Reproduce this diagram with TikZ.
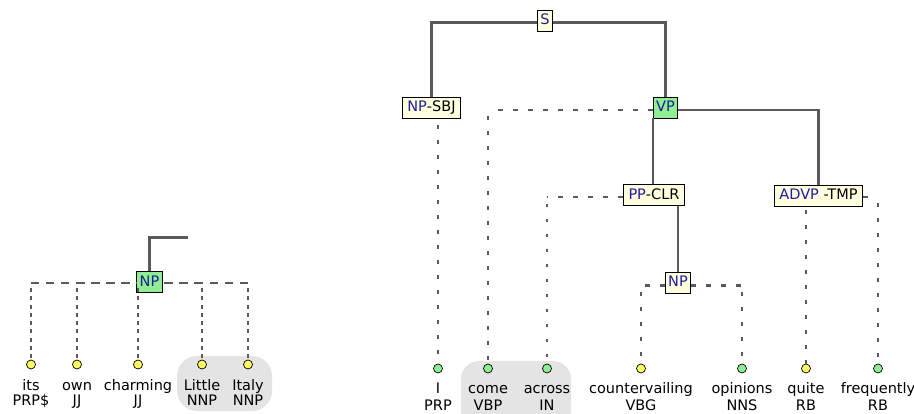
\documentclass[tikz,border=0pt]{standalone}
\usepackage{fontspec}
\setmainfont{DejaVu Sans}
\usetikzlibrary{calc}
\definecolor{edgec}{HTML}{5A5A5A}
\definecolor{boxy}{HTML}{FFFFE0}
\definecolor{boxg}{HTML}{90EE90}
\definecolor{lblue}{HTML}{1C1C9E}
\definecolor{doty}{HTML}{FFFF60}
\definecolor{hlgray}{HTML}{E4E4E4}
\newcommand{\lbl}[1]{\textcolor{lblue}{#1}}
\begin{document}
\begin{tikzpicture}[x=1pt,y=-1pt,font=\fontsize{14.5}{16}\selectfont,
  cat/.style={draw=black, line width=0.9pt, fill=boxy, inner xsep=3pt, inner ysep=0pt,
    minimum height=21pt, text height=10.8pt, text depth=2.5pt},
  catg/.style={cat, fill=boxg},
  widecat/.style={cat, inner xsep=5pt},
  solidedge/.style={draw=edgec, line width=2.1pt},
  hdash/.style={draw=edgec, line width=2.4pt, dash pattern=on 5pt off 10pt},
  vdot/.style={draw=edgec, line width=2.8pt, dash pattern=on 3.5pt off 11.5pt},
  ldash/.style={draw=edgec, line width=2.1pt, dash pattern=on 8pt off 7pt},
  ldot/.style={draw=edgec, line width=2.8pt, dash pattern=on 4pt off 4.3pt},
  leafy/.style={circle, draw=black, line width=0.7pt, fill=doty, inner sep=0pt, minimum size=9pt},
  leafg/.style={leafy, fill=boxg},
  word/.style={inner sep=0pt, anchor=base}
]
\useasboundingbox (0,0) rectangle (914,414);
% highlight backgrounds
\begin{scope}
\clip (0,0) rectangle (914,414);
\fill[hlgray, rounded corners=20pt] (177,356) rectangle (272,411);
\fill[hlgray, rounded corners=18pt] (461,361) rectangle (571,432);
\end{scope}

% ---------------- left fragment ----------------
\node[catg] (lnp) at (149.5,282) {\lbl{NP}};
\coordinate (lfree) at (188,237.5);
\draw[solidedge] (lnp.north) |- (lfree);

\node[leafy] (l1) at (31,364.5) {};
\node[leafy] (l2) at (77,364.5) {};
\node[leafy] (l3) at (138,364.5) {};
\node[leafy] (l4) at (202,364.5) {};
\node[leafy] (l5) at (248,364.5) {};

\draw[ldash] ($(lnp.west -| l1)+(0,1)$) -- ($(lnp.west)+(0,1)$);
\draw[ldash] ($(lnp.west -| l2)+(0,1)$) -- ($(lnp.west)+(0,1)$);
\draw[ldash] ($(lnp.east -| l4)+(0,1)$) -- ($(lnp.east)+(0,1)$);
\draw[ldash] ($(lnp.east -| l5)+(0,1)$) -- ($(lnp.east)+(0,1)$);
\draw[ldot] ($(lnp.west -| l1)+(0,6)$) -- (l1.north);
\draw[ldot] ($(lnp.west -| l2)+(0,6)$) -- (l2.north);
\draw[ldot] ($(lnp.west -| l3)+(0,6)$) -- (l3.north);
\draw[ldot] ($(lnp.east -| l4)+(0,6)$) -- (l4.north);
\draw[ldot] ($(lnp.east -| l5)+(0,6)$) -- (l5.north);

\node[word] (lw1) at ($(l1)+(0,25.5)$) {its};
\node[word] (lt1) at ($(l1)+(0,41.5)$) {PRP\$};
\node[word] (lw2) at ($(l2)+(0,25.5)$) {own};
\node[word] (lt2) at ($(l2)+(0,41.5)$) {JJ};
\node[word] (lw3) at ($(l3)+(0,25.5)$) {charming};
\node[word] (lt3) at ($(l3)+(0,41.5)$) {JJ};
\node[word] (lw4) at ($(l4)+(0,25.5)$) {Little};
\node[word] (lt4) at ($(l4)+(0,41.5)$) {NNP};
\node[word] (lw5) at ($(l5)+(0,25.5)$) {Italy};
\node[word] (lt5) at ($(l5)+(0,41.5)$) {NNP};

% ---------------- right tree ----------------
\node[cat] (s) at (545,20.5) {\lbl{S}};
\node[widecat] (npsbj) at (431.5,107.5) {\lbl{NP}-SBJ};
\node[catg] (vp) at (665.5,107.5) {\lbl{VP}};
\node[widecat] (pp) at (654,195) {\lbl{PP}-CLR};
\node[widecat] (advp) at (818.5,195.5) {\lbl{ADVP} -TMP};
\node[cat] (np2) at (678,282.5) {\lbl{NP}};

\draw[solidedge] ($(s.west)+(0,2)$) -| (npsbj.north);
\draw[solidedge] ($(s.east)+(0,2)$) -| (vp.north);
\draw[solidedge] ($(vp.east)+(0,2.5)$) -| (advp.north);
\draw[solidedge] ($(pp.north)+(-1,0)$) -- ($(pp.north |- vp.south)+(-1,0)$);
\draw[solidedge] (np2.north) -- (np2.north |- pp.south);

\node[leafg] (r1) at (438,368.5) {};
\node[leafg] (r2) at (488,368.5) {};
\node[leafg] (r3) at (547,368.5) {};
\node[leafy] (r4) at (641,368.5) {};
\node[leafg] (r5) at (742,368.5) {};
\node[leafy] (r6) at (806,368.5) {};
\node[leafg] (r7) at (878,368.5) {};

% NP-SBJ -> I
\draw[vdot] ($(npsbj.south -| r1)+(0,7)$) -- (r1.north);
% VP -> come
\draw[hdash] ($(vp.west)+(0,2.5)$) -- ($(vp.west -| r2)+(0,2.5)$);
\draw[vdot] ($(vp.west -| r2)+(0,9)$) -- (r2.north);
% PP-CLR -> across
\draw[hdash] ($(pp.west)+(0,2)$) -- ($(pp.west -| r3)+(0,2)$);
\draw[vdot] ($(pp.west -| r3)+(0,9)$) -- (r3.north);
% NP -> countervailing, opinions
\draw[hdash] ($(np2.west)+(0,3)$) -- ($(np2.west -| r4)+(0,3)$);
\draw[vdot] ($(np2.west -| r4)+(0,10)$) -- (r4.north);
\draw[hdash] ($(np2.east)+(0,3)$) -- ($(np2.east -| r5)+(0,3)$);
\draw[vdot] ($(np2.east -| r5)+(0,10)$) -- (r5.north);
% ADVP -> quite, frequently
\draw[vdot] ($(advp.south -| r6)+(0,4)$) -- (r6.north);
\draw[hdash] ($(advp.east)+(0,1.5)$) -- ($(advp.east -| r7)+(0,1.5)$);
\draw[vdot] ($(advp.east -| r7)+(0,8)$) -- (r7.north);

\node[word] (rw1) at ($(r1)+(0,25.5)$) {I};
\node[word] (rt1) at ($(r1)+(0,42)$) {PRP};
\node[word] (rw2) at ($(r2)+(0,25.5)$) {come};
\node[word] (rt2) at ($(r2)+(0,42)$) {VBP};
\node[word] (rw3) at ($(r3)+(0,25.5)$) {across};
\node[word] (rt3) at ($(r3)+(0,42)$) {IN};
\node[word] (rw4) at ($(r4)+(0,25.5)$) {countervailing};
\node[word] (rt4) at ($(r4)+(0,42)$) {VBG};
\node[word] (rw5) at ($(r5)+(0,25.5)$) {opinions};
\node[word] (rt5) at ($(r5)+(0,42)$) {NNS};
\node[word] (rw6) at ($(r6)+(0,25.5)$) {quite};
\node[word] (rt6) at ($(r6)+(0,42)$) {RB};
\node[word] (rw7) at ($(r7)+(0,25.5)$) {frequently};
\node[word] (rt7) at ($(r7)+(0,42)$) {RB};
\end{tikzpicture}
\end{document}
